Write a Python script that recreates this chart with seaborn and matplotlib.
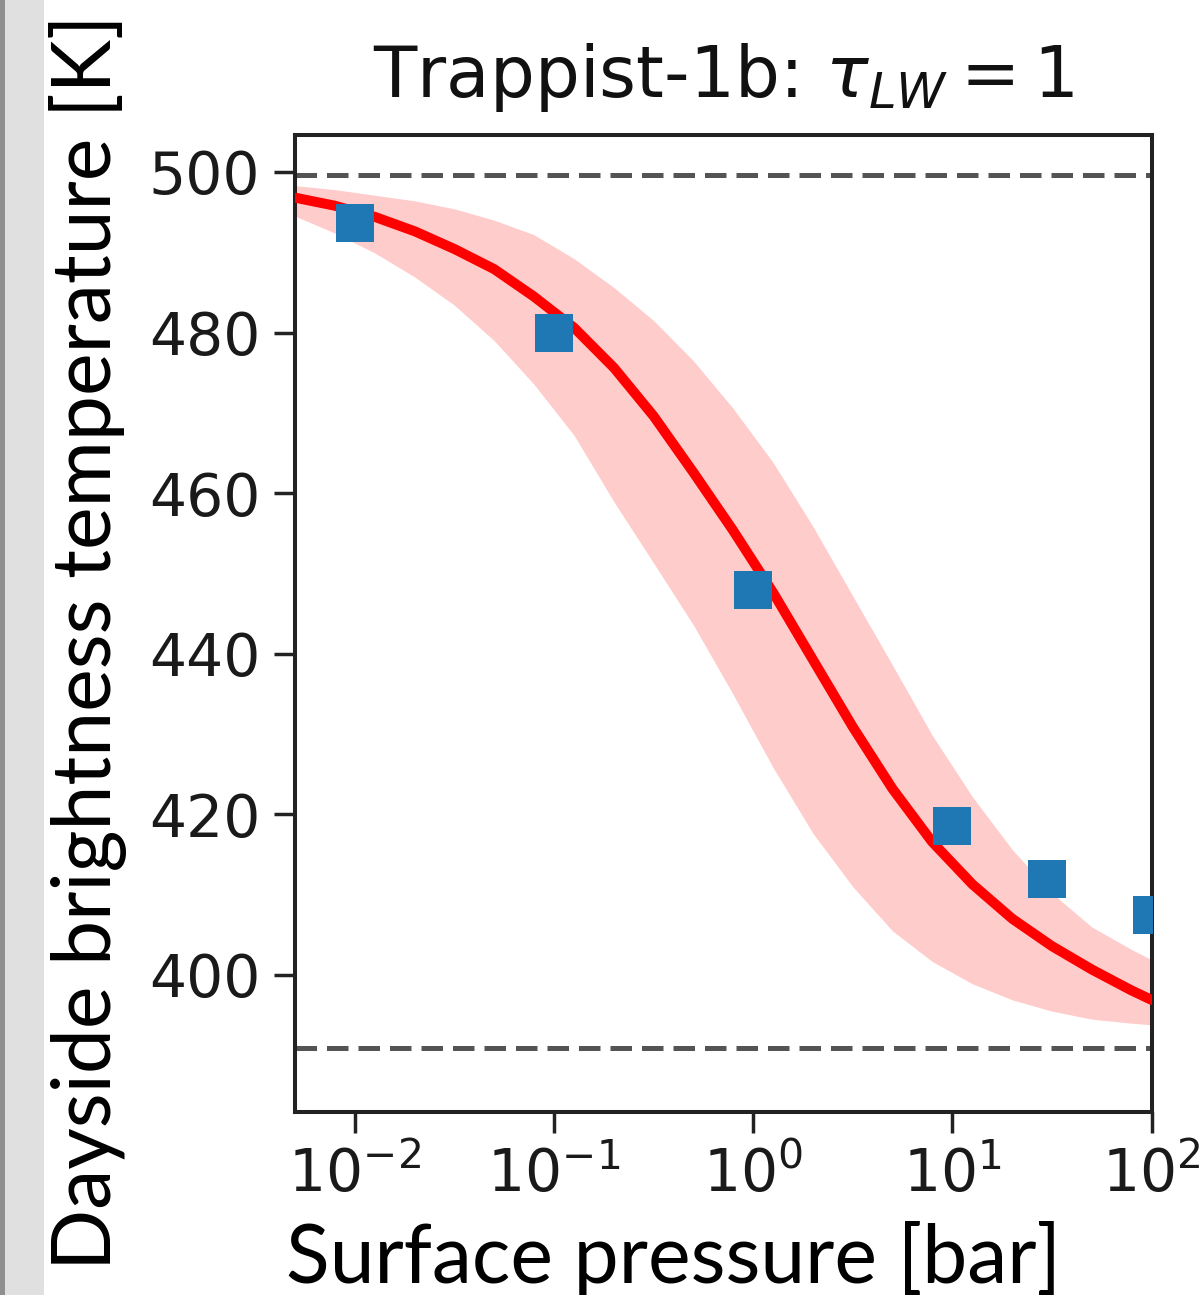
import matplotlib
matplotlib.use('Agg')
import matplotlib.pyplot as plt
from matplotlib.patches import Rectangle
import pandas as pd
import seaborn as sns

sns.set_theme(style='ticks')
plt.rcParams['font.family'] = ['DejaVu Sans']

# values
pressure = [0.005, 0.0079, 0.0126, 0.02, 0.0316, 0.05, 0.079, 0.126, 0.2, 0.316,
            0.5, 0.79, 1.26, 2, 3.16, 5, 7.9, 12.6, 20, 31.6, 50, 79, 100]
temp_fit = [496.8, 495.8, 494.4, 492.6, 490.4, 487.9, 484.5, 480.6, 475.6, 469.6,
            462.6, 455.4, 447.6, 439.2, 430.9, 423.2, 416.6, 411.3, 407.0, 403.6,
            400.7, 398.1, 396.9]
temp_hi = [498.3, 497.8, 497.1, 496.4, 495.4, 494.0, 492.2, 489.2, 485.6, 481.5,
           476.5, 470.6, 463.8, 455.8, 447.2, 438.6, 429.9, 422.2, 415.6, 410.2,
           406.0, 403.2, 401.9]
temp_lo = [494.5, 492.4, 489.9, 486.9, 483.4, 479.0, 473.6, 467.2, 458.9, 451.3,
           443.6, 435.0, 425.8, 417.6, 411.0, 405.5, 401.7, 398.9, 396.9, 395.5,
           394.5, 394.0, 393.8]

sim_pressure = [0.01, 0.1, 1, 10, 30, 100]
sim_temp = [493.6, 479.9, 447.9, 418.5, 412.0, 407.5]

t_max = 499.6
t_min = 390.9

df_fit = pd.DataFrame({'p': pressure, 'T': temp_fit})
df_sim = pd.DataFrame({'p': sim_pressure, 'T': sim_temp})

fig = plt.figure(figsize=(12.03, 12.95), dpi=100)
fig.patch.set_facecolor('white')
# grey strips on the left edge
fig.patches.append(Rectangle((0, 0), 44 / 1203, 1, transform=fig.transFigure,
                             facecolor='#e0e0e0', edgecolor='none', zorder=0))
fig.patches.append(Rectangle((0, 0), 5 / 1203, 1, transform=fig.transFigure,
                             facecolor='#8f8f8f', edgecolor='none', zorder=0))

ax = fig.add_axes([295 / 1203, 1 - 1111.5 / 1295, 856.5 / 1203, 976.5 / 1295])
ax.set_xscale('log')

ax.fill_between(pressure, temp_lo, temp_hi, color='#ffcccc', linewidth=0, zorder=1)
sns.lineplot(data=df_fit, x='p', y='T', color='red', linewidth=7.2, ax=ax, zorder=3)
sns.scatterplot(data=df_sim, x='p', y='T', marker='s', s=760, color='#1f77b4',
                linewidth=0, ax=ax, zorder=4)

ax.axhline(t_max, ls='--', color='0.33', lw=3.6, dashes=(4.3, 2.0), zorder=2)
ax.axhline(t_min, ls='--', color='0.33', lw=3.6, dashes=(4.3, 2.0), zorder=2)

ax.set_xlim(0.005, 100)
ax.set_ylim(383.0, 504.6)
ax.set_yticks([400, 420, 440, 460, 480, 500])
ax.set_xticks([0.01, 0.1, 1, 10, 100])
ax.minorticks_off()

for s in ax.spines.values():
    s.set_linewidth(2.9)
    s.set_color('#222222')
ax.tick_params(axis='both', which='major', labelsize=42, length=15, width=2.5,
               pad=10, colors='#222222', labelcolor='#1a1a1a')

ax.set_title(r'Trappist-1b: $\tau_{LW} = 1$', fontsize=51, pad=27, color='#111111')

label_font = ['Lato', 'DejaVu Sans']
ax.set_xlabel('Surface pressure [bar]', fontsize=58, family=label_font, color='black')
ax.set_ylabel('Dayside brightness temperature [K]', fontsize=58, family=label_font,
              color='black')
# the labels sit a little off-centre in the picture
ax.xaxis.set_label_coords(0.4425, -0.112)
ax.yaxis.set_label_coords(-0.196, 0.481)

fig.savefig('out.png', dpi=100)
